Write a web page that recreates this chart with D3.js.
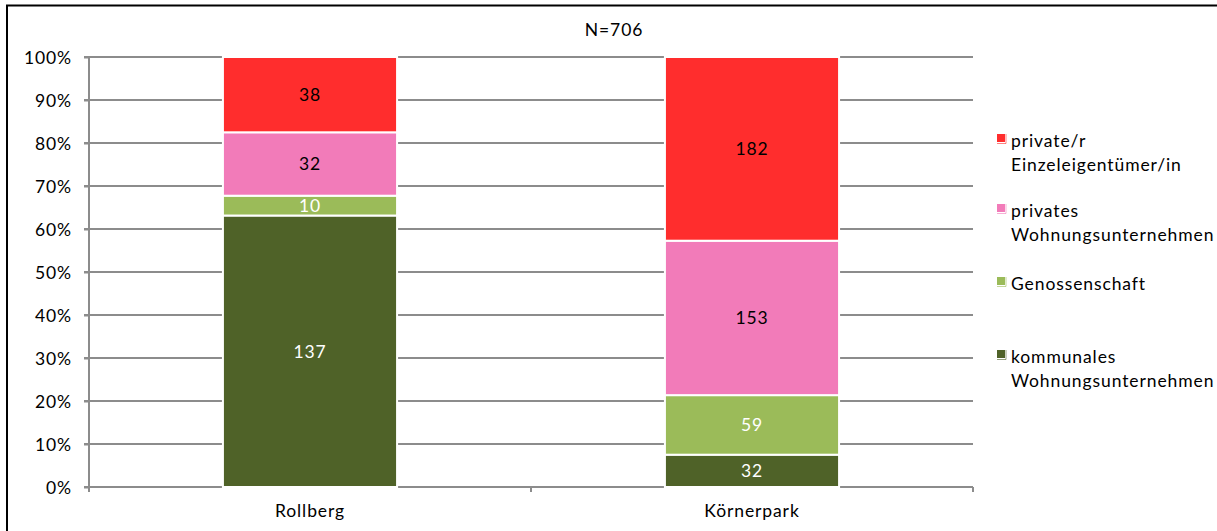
<!DOCTYPE html>
<html>
<head>
<meta charset="utf-8">
<script src="https://cdn.jsdelivr.net/npm/d3@7"></script>
<style>
  html, body { margin: 0; padding: 0; background: #fff; }
  svg { display: block; }
  text { font-family: "Lato", "Noto Sans", sans-serif; letter-spacing: 0.9px; }
</style>
</head>
<body>
<svg id="chart" width="1217" height="531"></svg>
<script>
// Eigentümer der Wohnungen nach Gebiet (absolute Anzahl je Kategorie)
const areas = ["Rollberg", "Körnerpark"];
const ownerTypes = [
  "kommunales Wohnungsunternehmen",
  "Genossenschaft",
  "privates Wohnungsunternehmen",
  "private/r Einzeleigentümer/in"
];
const kommunales = [137, 32];
const genossenschaft = [10, 59];
const privatesUnternehmen = [32, 153];
const privateEinzel = [38, 182];
const yTicks = [0, 0.1, 0.2, 0.3, 0.4, 0.5, 0.6, 0.7, 0.8, 0.9, 1];
const colors = ["#4f6228", "#9bbb59", "#f27bb9", "#ff2d2d"];
const labelColors = ["#ffffff", "#ffffff", "#000000", "#000000"];
const legendLines = [
  ["private/r", "Einzeleigentümer/in"],
  ["privates", "Wohnungsunternehmen"],
  ["Genossenschaft"],
  ["kommunales", "Wohnungsunternehmen"]
];
const sampleNote = "N=706";

const svg = d3.select("#chart");
const margin = { left: 89, right: 973, top: 57, bottom: 487 };
const fs = 17.5;

// Rahmen (links und oben)
svg.append("path")
  .attr("d", "M7,531 V5.5 H1217")
  .attr("fill", "none").attr("stroke", "#000").attr("stroke-width", 2);

const rows = areas.map((a, i) => ({
  area: a,
  [ownerTypes[0]]: kommunales[i],
  [ownerTypes[1]]: genossenschaft[i],
  [ownerTypes[2]]: privatesUnternehmen[i],
  [ownerTypes[3]]: privateEinzel[i]
}));
const stacked = d3.stack().keys(ownerTypes).offset(d3.stackOffsetExpand)(rows);

const x = d3.scaleBand().domain(areas).range([margin.left, margin.right]).paddingInner(0.606).paddingOuter(0.303);
const y = d3.scaleLinear().domain([0, 1]).range([margin.bottom, margin.top]);

// Gitterlinien
svg.append("g").selectAll("line").data(yTicks).join("line")
  .attr("x1", margin.left - 5).attr("x2", margin.right)
  .attr("y1", d => y(d)).attr("y2", d => y(d))
  .attr("stroke", "#8c8c8c").attr("stroke-width", 2);

// Y-Achse
const yAxis = svg.append("g").attr("transform", `translate(${margin.left},0)`)
  .call(d3.axisLeft(y).tickValues(yTicks).tickFormat(d3.format(".0%")).tickSize(5).tickPadding(12));
yAxis.select(".domain").attr("stroke", "#8c8c8c").attr("stroke-width", 2)
  .attr("d", `M0,${margin.top} V${margin.bottom + 4}`);
yAxis.selectAll(".tick line").attr("stroke", "#8c8c8c").attr("stroke-width", 2);
yAxis.selectAll(".tick text").attr("font-size", fs).attr("fill", "#000")
  .attr("font-family", "Lato, 'Noto Sans', sans-serif").attr("dy", "0.35em");

// X-Achse
const xAxis = svg.append("g").attr("transform", `translate(0,${margin.bottom})`)
  .call(d3.axisBottom(x).tickSize(0).tickPadding(18));
xAxis.select(".domain").remove();
xAxis.selectAll(".tick text").attr("font-size", fs).attr("fill", "#000")
  .attr("font-family", "Lato, 'Noto Sans', sans-serif");
const boundaries = [margin.left, (x(areas[0]) + x.bandwidth() + x(areas[1])) / 2, margin.right];
svg.append("g").selectAll("line").data(boundaries).join("line")
  .attr("x1", d => d).attr("x2", d => d)
  .attr("y1", margin.bottom).attr("y2", margin.bottom + 5)
  .attr("stroke", "#8c8c8c").attr("stroke-width", 2);

// Gestapelte Balken
const layers = svg.append("g").selectAll("g").data(stacked).join("g")
  .attr("fill", (d, i) => colors[i]);
layers.selectAll("rect").data(d => d).join("rect")
  .attr("x", d => x(d.data.area))
  .attr("width", x.bandwidth())
  .attr("y", d => y(d[1]))
  .attr("height", d => y(d[0]) - y(d[1]))
  .attr("stroke", "#fff").attr("stroke-width", 2);

// Werte in den Segmenten
svg.append("g").selectAll("g").data(stacked).join("g")
  .each(function(layer, li) {
    d3.select(this).selectAll("text").data(layer).join("text")
      .attr("x", d => x(d.data.area) + x.bandwidth() / 2)
      .attr("y", d => (y(d[0]) + y(d[1])) / 2)
      .attr("dy", "0.36em")
      .attr("text-anchor", "middle")
      .attr("font-size", fs)
      .attr("fill", labelColors[li])
      .text(d => d.data[layer.key]);
  });

// Stichprobengröße
svg.append("text")
  .attr("x", 614).attr("y", 36)
  .attr("text-anchor", "middle").attr("font-size", fs).attr("fill", "#000")
  .text(sampleNote);

// Legende
const legendTop = [141, 211, 284, 357];
const legendColors = [colors[3], colors[2], colors[1], colors[0]];
const legend = svg.append("g");
legendLines.forEach((lines, i) => {
  legend.append("rect")
    .attr("x", 997).attr("y", legendTop[i] - 7)
    .attr("width", 8).attr("height", 8)
    .attr("fill", legendColors[i]);
  legend.append("path")
    .attr("d", `M997,${legendTop[i] + 2.5} H1006 V${legendTop[i] - 7}`)
    .attr("fill", "none").attr("stroke", legendColors[i]).attr("stroke-opacity", 0.6).attr("stroke-width", 1);
  const t = legend.append("text")
    .attr("x", 1011).attr("y", legendTop[i]).attr("dy", "0.35em")
    .attr("font-size", fs).attr("fill", "#000");
  lines.forEach((ln, j) => {
    t.append("tspan").attr("x", 1011).attr("dy", j === 0 ? "0.35em" : "24px").text(ln);
  });
});
</script>
</body>
</html>
